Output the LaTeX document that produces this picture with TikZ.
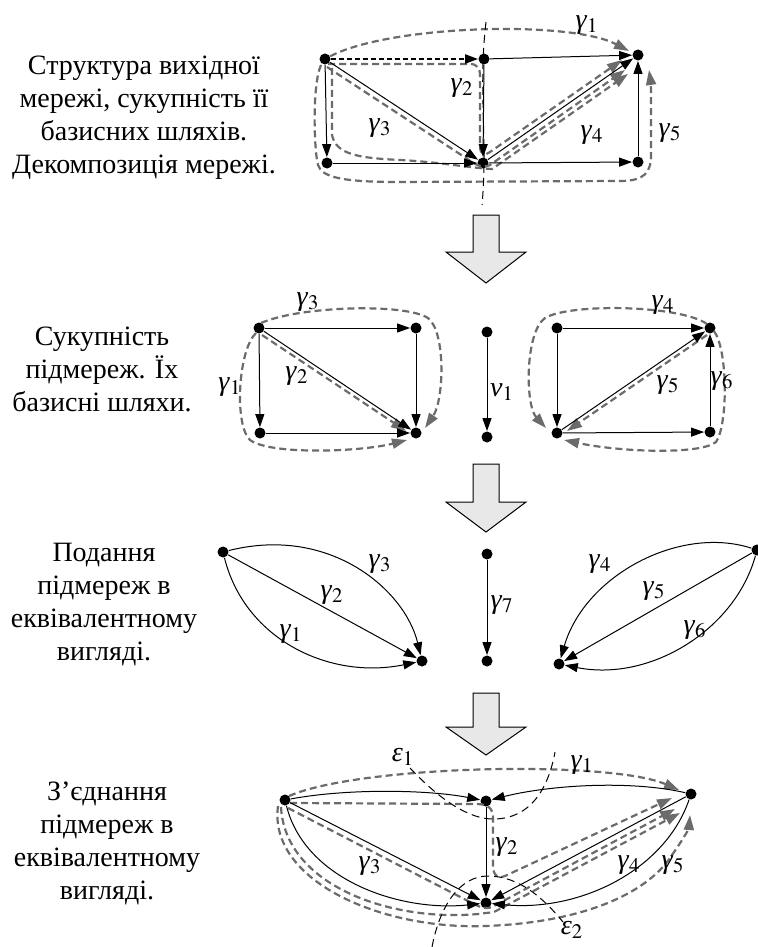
\documentclass[tikz,border=0pt]{standalone}
\usepackage{mathptmx}
\usepackage[no-math]{fontspec}
\setmainfont{Liberation Serif}
\usetikzlibrary{arrows.meta}
\definecolor{pathgray}{gray}{0.42}
\newcommand{\gm}[1]{\textit{γ}$_{#1}$}
\newcommand{\eps}[1]{\textit{ε}$_{#1}$}

\begin{document}
\begin{tikzpicture}[x=0.5pt,y=-0.5pt,>={Triangle[length=6.5pt,width=4.5pt]},
  font=\fontsize{14}{16.5}\selectfont,
  dot/.style={circle,fill=black,inner sep=0pt,minimum size=5.5pt},
  edge/.style={->,line width=0.5pt},
  bpath/.style={-{Triangle[length=7.5pt,width=5pt]},draw=pathgray,line width=1.1pt,dash pattern=on 3.5pt off 2pt},
  cut/.style={line width=0.5pt,dash pattern=on 4pt off 2.5pt},
  bigarrow/.style={fill=black!9,draw=black,line width=0.5pt},
  caption/.style={align=center}]
  \useasboundingbox (0,0) rectangle (758,947);

  % captions
  \node[caption] (t1) at (144,118) {Структура вихідної\\мережі, сукупність її\\базисних шляхів.\\Декомпозиція мережі.};
  \node[caption] (t2) at (102,369) {Сукупність\\підмереж. Їх\\базисні шляхи.};
  \node[caption] (t3) at (104,605) {Подання\\підмереж в\\еквівалентному\\вигляді.};
  \node[caption] (t4) at (107,843) {З’єднання\\підмереж в\\еквівалентному\\вигляді.};

  % block arrows
  \foreach \t/\h/\b in {215/252/283,464/502/532,693/727/755}{
    \draw[bigarrow] (473,\t) -- (499,\t) -- (499,\h) -- (526,\h) -- (486,\b) -- (446,\h) -- (473,\h) -- cycle;
  }

  % 1. source network
  \node[dot] (a1) at (325,59) {};
  \node[dot] (a2) at (484,59) {};
  \node[dot] (a3) at (638,55) {};
  \node[dot] (a4) at (327,163) {};
  \node[dot] (a5) at (483,163) {};
  \node[dot] (a6) at (638,162) {};
  \draw[bpath] (a1) .. controls (390,25) and (570,20) .. (629,51);
  \draw[bpath] ([shift={(3,5)}]a1.center) -- (470,64) .. controls (477,64) and (480,68) .. (480,76)
    -- (480,146) .. controls (480,155) and (485,156) .. (490,152) -- (622,60);
  \draw[bpath] (327,67) -- (472,162) .. controls (478,166) and (483,168) .. (490,165) -- (625,70);
  \draw[bpath] (332,68) -- (332,135) .. controls (336,155) and (360,158) .. (400,160)
    .. controls (440,162) and (470,168) .. (492,169) -- (628,74);
  \draw[bpath] (321,65) .. controls (312,85) and (314,150) .. (318,165) .. controls (322,178) and (345,182) .. (400,182)
    -- (620,181) .. controls (645,181) and (651,172) .. (651,155) -- (651,95) .. controls (651,82) and (650,77) .. (649,70);
  \draw[edge,dash pattern=on 2.5pt off 1.5pt,line width=1pt] (a1) -- (a2);
  \draw[edge] (a2) -- (a3);
  \draw[edge] (a1) -- (a4);
  \draw[edge] (a1) -- (a5);
  \draw[edge] (a2) -- (a5);
  \draw[edge] (a4) -- (a5);
  \draw[edge] (a5) -- (a3);
  \draw[edge] (a5) -- (a6);
  \draw[edge] (a6) -- (a3);
  \draw[cut] (486,22) .. controls (478,90) and (488,140) .. (482,205);
  \node (la1) at (587,25) {\gm{1}};
  \node (la2) at (462,88) {\gm{2}};
  \node (la3) at (380,128) {\gm{3}};
  \node (la4) at (592,135) {\gm{4}};
  \node (la5) at (670,133) {\gm{5}};

  % 2. subnetworks
  \node[dot] (b1) at (259,328) {};
  \node[dot] (b2) at (416,328) {};
  \node[dot] (b3) at (260,433) {};
  \node[dot] (b4) at (416,433) {};
  \node[dot] (c1) at (487,332) {};
  \node[dot] (c2) at (487,437) {};
  \node[dot] (d1) at (557,328) {};
  \node[dot] (d2) at (710,328) {};
  \node[dot] (d3) at (557,433) {};
  \node[dot] (d4) at (710,432) {};
  \draw[bpath] ([shift={(-3,5)}]b1.center) .. controls (238,350) and (234,425) .. (250,440)
    .. controls (270,455) and (360,452) .. (407,440);
  \draw[bpath] ([shift={(2,-5)}]b1.center) .. controls (300,306) and (405,303) .. (428,318)
    .. controls (446,332) and (444,400) .. (425,428);
  \draw[bpath] (262,335) -- (406,431);
  \draw[bpath] ([shift={(-3,-4)}]d2.center) .. controls (680,305) and (570,303) .. (545,318)
    .. controls (525,332) and (525,405) .. (546,428);
  \draw[bpath] (707,335) -- (567,431);
  \draw[bpath] ([shift={(4,3)}]d2.center) .. controls (728,350) and (728,425) .. (716,442)
    .. controls (700,455) and (620,452) .. (564,440);
  \draw[edge] (b1) -- (b2);
  \draw[edge] (b1) -- (b3);
  \draw[edge] (b1) -- (b4);
  \draw[edge] (b2) -- (b4);
  \draw[edge] (b3) -- (b4);
  \draw[edge] (c1) -- (c2);
  \draw[edge] (d1) -- (d2);
  \draw[edge] (d1) -- (d3);
  \draw[edge] (d3) -- (d2);
  \draw[edge] (d3) -- (d4);
  \draw[edge] (d4) -- (d2);
  \node (lb3) at (308,302) {\gm{3}};
  \node (lb1) at (230,387) {\gm{1}};
  \node (lb2) at (297,376) {\gm{2}};
  \node (lc1) at (502,392) {\textit{v}$_1$};
  \node (ld4) at (663,305) {\gm{4}};
  \node (ld5) at (668,385) {\gm{5}};
  \node (ld6) at (722,381) {\gm{6}};

  % 3. equivalent subnetworks
  \node[dot] (e1) at (223,552) {};
  \node[dot] (e2) at (422,661) {};
  \node[dot] (f1) at (487,554) {};
  \node[dot] (f2) at (487,661) {};
  \node[dot] (g1) at (757,550) {};
  \node[dot] (g2) at (559,664) {};
  \draw[edge] (e1) -- (e2);
  \draw[edge] (e1) .. controls (330,525) and (405,590) .. (e2);
  \draw[edge] (e1) .. controls (245,640) and (330,680) .. (e2);
  \draw[edge] (f1) -- (f2);
  \draw[edge] (g1) -- (g2);
  \draw[edge] (g1) .. controls (680,525) and (585,575) .. (g2);
  \draw[edge] (g1) .. controls (735,630) and (650,682) .. (g2);
  \node (le3) at (380,564) {\gm{3}};
  \node (le2) at (332,595) {\gm{2}};
  \node (le1) at (291,634) {\gm{1}};
  \node (lf7) at (502,605) {\gm{7}};
  \node (lg4) at (600,564) {\gm{4}};
  \node (lg5) at (654,591) {\gm{5}};
  \node (lg6) at (695,630) {\gm{6}};

  % 4. joined subnetworks
  \node[dot] (h1) at (285,800) {};
  \node[dot] (h2) at (486,801) {};
  \node[dot] (h3) at (691,794) {};
  \node[dot] (h4) at (486,903) {};
  \draw[bpath] ([shift={(4,-4)}]h1.center) .. controls (360,765) and (610,760) .. (679,790);
  \draw[bpath] ([shift={(5,3)}]h1.center) -- (476,804) .. controls (488,804) and (493,808) .. (493,818)
    -- (493,866) .. controls (493,875) and (498,879) .. (505,876) -- (672,798);
  \draw[bpath] (288,808) -- (472,903) .. controls (478,906) and (484,910) .. (492,907) -- (675,809);
  \draw[bpath] (281,807) .. controls (285,885) and (390,922) .. (478,914)
    .. controls (484,913) and (488,913) .. (494,912) -- (680,813);
  \draw[bpath] (278,806) .. controls (268,880) and (380,930) .. (486,926)
    .. controls (590,922) and (650,890) .. (672,855) .. controls (684,838) and (689,828) .. (690,815);
  \draw[edge] (h1) .. controls (350,788) and (430,790) .. (h2);
  \draw[edge] (h3) .. controls (630,780) and (550,785) .. (h2);
  \draw[edge] (h2) -- (h4);
  \draw[edge] (h1) -- (h4);
  \draw[edge] (h1) .. controls (305,880) and (400,912) .. (h4);
  \draw[edge] (h3) -- (h4);
  \draw[edge] (h3) .. controls (665,870) and (580,912) .. (h4);
  \draw[cut] (410,768) .. controls (440,800) and (470,820) .. (495,819) .. controls (530,818) and (548,790) .. (555,752);
  \draw[cut] (432,947) .. controls (440,905) and (460,876) .. (488,876) .. controls (520,876) and (545,900) .. (563,922);
  \node (lh1) at (582,765) {\gm{1}};
  \node (lh2) at (507,847) {\gm{2}};
  \node (lh3) at (370,866) {\gm{3}};
  \node (lh4) at (629,865) {\gm{4}};
  \node (lh5) at (673,865) {\gm{5}};
  \node (le1c) at (403,757) {\eps{1}};
  \node (le2c) at (572,930) {\eps{2}};
\end{tikzpicture}
\end{document}
